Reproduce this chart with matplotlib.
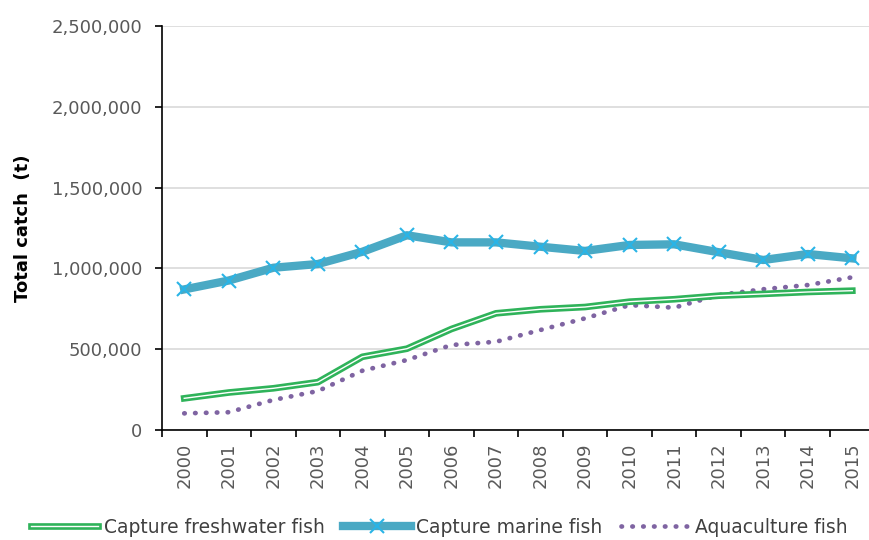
import matplotlib
matplotlib.use("Agg")
import matplotlib.pyplot as plt
import matplotlib.patheffects as pe
from matplotlib.ticker import FuncFormatter, FixedLocator
import numpy as np

years = ["2000", "2001", "2002", "2003", "2004", "2005", "2006", "2007",
         "2008", "2009", "2010", "2011", "2012", "2013", "2014", "2015"]

freshwater = [196000, 232000, 258000, 296000, 453000, 503000, 625000, 722000,
              747000, 761000, 794000, 809000, 831000, 842000, 854000, 862000]
marine = [870000, 925000, 1004000, 1027000, 1103000, 1205000, 1161000, 1161000,
          1134000, 1108000, 1145000, 1149000, 1100000, 1052000, 1089000, 1062000]
aquaculture = [103000, 110000, 186000, 241000, 367000, 433000, 526000, 546000,
               619000, 691000, 773000, 757000, 835000, 871000, 897000, 945000]

fig = plt.figure(figsize=(8.69, 5.40), dpi=100)
ax = fig.add_axes([0.1864, 0.2037, 0.82, 0.7482])

x = np.arange(len(years))

# double green line for freshwater (green outline, thin white core)
ax.plot(x, freshwater, color="white", lw=1.0, solid_joinstyle="round",
        path_effects=[pe.Stroke(linewidth=4.8, foreground="#2fb35a"), pe.Normal()],
        label="Capture freshwater fish", zorder=3)
ax.plot(x, marine, color="#4aa9c4", lw=6, marker="x", markersize=9.5,
        markeredgewidth=1.5, markeredgecolor="#2ab4e6",
        label="Capture marine fish", zorder=4)
ax.plot(x, aquaculture, color="#7f64a2", lw=3.4, linestyle=(0, (0.1, 2.2)),
        dash_capstyle="round", label="Aquaculture fish", zorder=2)

ax.set_xlim(-0.5, len(years) - 0.5)
ax.set_ylim(0, 2500000)
ax.set_yticks(np.arange(0, 2500001, 500000))
ax.yaxis.set_major_formatter(FuncFormatter(lambda v, p: f"{int(v):,}"))
ax.grid(axis="y", color="#d9d9d9", lw=1.2)
ax.set_axisbelow(True)

ax.set_xticks(x)
ax.set_xticklabels(years, rotation=90, va="top")
ax.xaxis.set_minor_locator(FixedLocator(np.arange(-0.5, len(years), 1)))
ax.tick_params(axis="x", which="major", length=0, pad=9, labelsize=13, labelcolor="#595959")
ax.tick_params(axis="x", which="minor", length=5, width=1.2, direction="out", color="black")
ax.tick_params(axis="y", length=5, width=1.2, direction="out", labelsize=13,
               labelcolor="#595959", pad=9)

for s in ["top", "right"]:
    ax.spines[s].set_visible(False)
ax.spines["left"].set_linewidth(1.2)
ax.spines["bottom"].set_linewidth(1.2)

ax.set_ylabel("Total catch  (t)", fontsize=13, fontweight="bold")
ax.yaxis.set_label_coords(-0.183, 0.5)

fig.legend(loc="lower center", bbox_to_anchor=(0.505, -0.025), ncol=3, frameon=False,
           fontsize=13.5, handlelength=3.6, columnspacing=1.0, handletextpad=0.3,
           labelcolor="#404040")

fig.savefig("out.png", dpi=100)
